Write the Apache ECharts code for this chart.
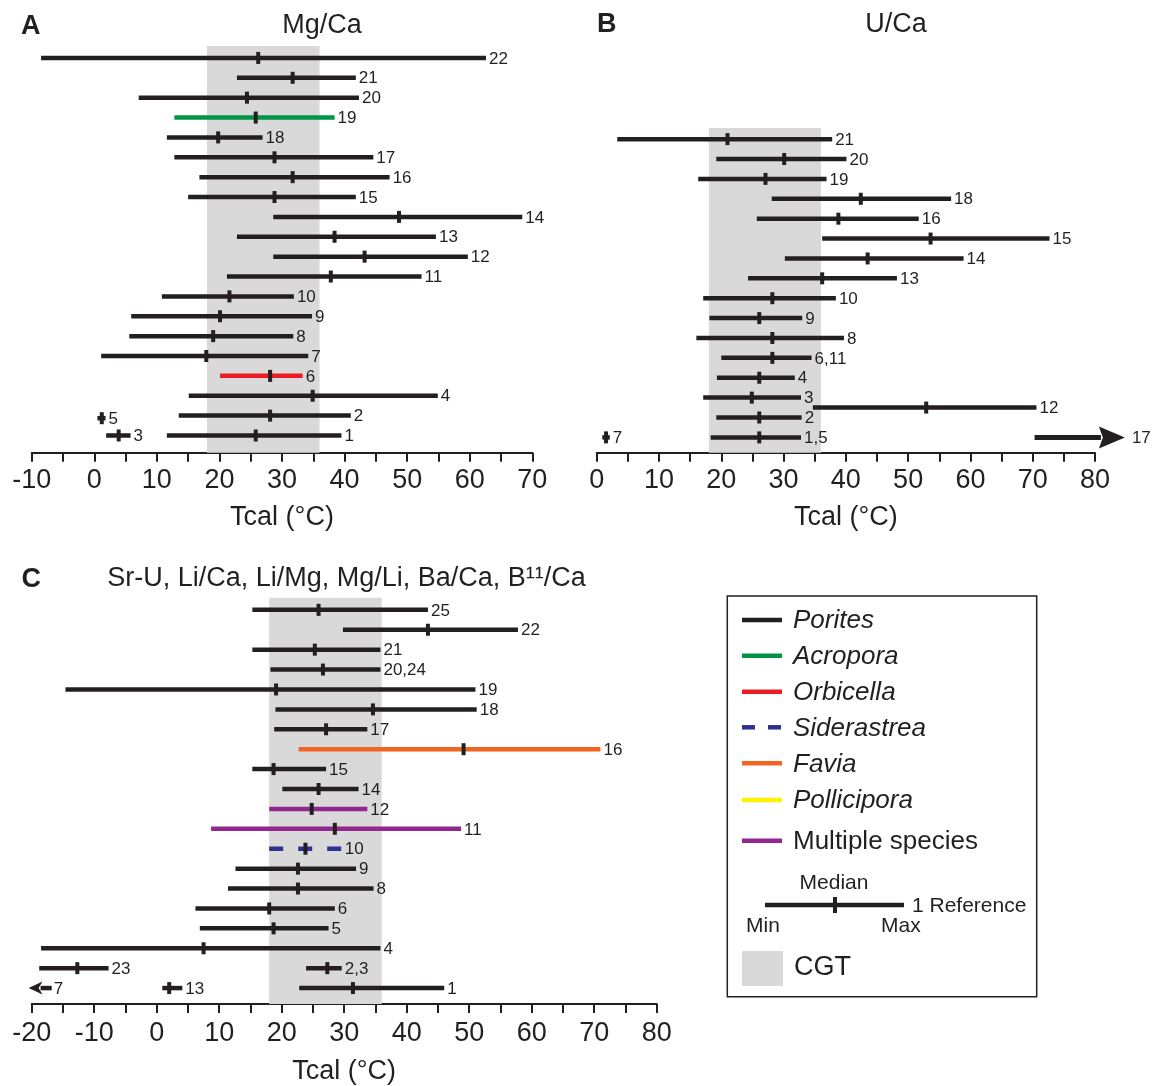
<!DOCTYPE html>
<html><head><meta charset="utf-8">
<script src="https://cdn.jsdelivr.net/npm/echarts@6/dist/echarts.min.js"></script>
<style>html,body{margin:0;padding:0;background:#fff}#c{width:1163px;height:1086px}</style>
</head><body><div id="c"></div>
<script>
const FONT = "'Liberation Sans', Arial, Helvetica, sans-serif";
const INK = '#231f20';

const speciesNames = ['Porites','Acropora','Orbicella','Siderastrea','Favia','Pollicipora','Multiple species'];
const speciesColors = ['#231f20','#009444','#ed1c24','#2e3192','#f26522','#fff200','#92278f'];
const cgtRange = [18, 36];

// Panel A: Mg/Ca
const aLabels  = ['22','21','20','19','18','17','16','15','14','13','12','11','10','9','8','7','6','4','2','5','1','3'];
const aRows    = [19,18,17,16,15,14,13,12,11,10,9,8,7,6,5,4,3,2,1,0.87,0,0];
const aMin     = [-8.5,22.8,7.1,12.8,11.6,12.8,16.8,15.0,28.6,22.8,28.6,21.2,10.8,5.9,5.6,1.1,20.1,15.1,13.5,0.5,11.6,1.9];
const aMedian  = [26.2,31.7,24.4,25.8,19.8,28.8,31.7,28.8,48.7,38.4,43.2,37.8,21.6,20.1,19.0,17.9,28.1,34.9,28.1,1.2,25.8,3.9];
const aMax     = [62.6,41.8,42.3,38.4,26.9,44.6,47.2,41.8,68.4,54.6,59.7,52.3,31.9,34.8,31.8,34.2,33.3,54.9,41.0,1.8,39.5,5.8];
const aSpecies = [0,0,0,1,0,0,0,0,0,0,0,0,0,0,0,0,2,0,0,0,0,0];

// Panel B: U/Ca
const bLabels  = ['21','20','19','18','16','15','14','13','10','9','8','6,11','4','3','12','2','1,5','7'];
const bRows    = [15,14,13,12,11,10,9,8,7,6,5,4,3,2,1.5,1,0,0];
const bMin     = [3.3,19.2,16.3,28.1,25.7,36.2,30.2,24.3,17.1,18.1,16.0,20.0,19.3,17.1,34.7,19.2,18.3,0.9];
const bMedian  = [21.0,30.1,27.1,42.4,38.8,53.6,43.5,36.2,28.2,26.1,28.2,28.2,26.1,24.9,52.9,26.1,26.1,1.5];
const bMax     = [37.8,40.1,36.9,56.9,51.7,72.7,58.9,48.2,38.4,33.0,39.7,34.5,31.8,32.8,70.6,32.9,32.8,2.1];
const bSpecies = bLabels.map(() => 0);
const bArrowLabels = ['17'];
const bArrowRows   = [0];
const bArrowFrom   = [70.3];
const bArrowTo     = [84.8];

// Panel C: Sr-U, Li/Ca, Li/Mg, Mg/Li, Ba/Ca, B11/Ca
const cLabels  = ['25','22','21','20,24','19','18','17','16','15','14','12','11','10','9','8','6','5','4','23','2,3','13','1'];
const cRows    = [19,18,17,16,15,14,13,12,11,10,9,8,7,6,5,4,3,2,1,1,0,0];
const cMin     = [15.3,29.8,15.3,18.2,-14.6,19.0,18.8,22.7,15.3,20.1,18.0,8.7,18.0,12.6,11.4,6.2,6.9,-18.5,-18.8,23.9,0.9,22.8];
const cMedian  = [25.9,43.4,25.3,26.6,19.1,34.6,27.1,49.1,18.7,25.9,24.8,28.5,23.8,22.6,22.6,18.0,18.7,7.5,-12.7,27.3,2.0,31.4];
const cMax     = [43.4,57.8,35.8,35.8,51.0,51.2,33.7,71.0,27.1,32.3,33.7,48.7,29.6,31.9,34.7,28.5,27.5,35.8,-7.7,29.6,4.1,46.0];
const cSpecies = [0,0,0,0,0,0,0,4,0,0,6,6,3,0,0,0,0,0,0,0,0,0];
const cArrowLabels = ['7'];
const cArrowRows   = [0];
const cArrowFrom   = [-16.8];
const cArrowTo     = [-20.5];

// axis extents (row units) for each panel
const yExt = [[-0.866, 19.6], [-0.77, 15.56], [-0.80, 19.61]];
const xExt = [[-10, 70], [0, 80], [-20, 80]];

function rangeSeries(gi, labels, rows, mins, meds, maxs, species) {
  return {
    type: 'custom', xAxisIndex: gi, yAxisIndex: gi, z: 3, silent: true, clip: false,
    data: labels.map((l, i) => [mins[i], maxs[i], meds[i], rows[i]]),
    encode: { x: [0, 1, 2], y: 3 },
    renderItem: function (params, api) {
      const i = params.dataIndex;
      const row = api.value(3);
      const a = api.coord([api.value(0), row]);
      const b = api.coord([api.value(1), row]);
      const m = api.coord([api.value(2), row]);
      const sp = species[i];
      const style = { stroke: speciesColors[sp], lineWidth: 4.5 };
      if (speciesNames[sp] === 'Siderastrea') style.lineDash = [14, 15];
      return { type: 'group', children: [
        { type: 'line', shape: { x1: a[0], y1: a[1], x2: b[0], y2: b[1] }, style: style },
        { type: 'rect', shape: { x: m[0] - 2, y: m[1] - 6, width: 4, height: 12 }, style: { fill: INK } },
        { type: 'text', x: b[0] + 3, y: b[1] + 1, style: { text: labels[i], fill: INK, font: '17px ' + FONT, align: 'left', verticalAlign: 'middle' } }
      ]};
    }
  };
}

function arrowSeries(gi, labels, rows, froms, tos, headLen, headHalf, shaftW, gap) {
  return {
    type: 'custom', xAxisIndex: gi, yAxisIndex: gi, z: 3, silent: true, clip: false,
    data: labels.map((l, i) => [froms[i], tos[i], rows[i]]),
    encode: { x: [0, 1], y: 2 },
    renderItem: function (params, api) {
      const i = params.dataIndex;
      const f = api.coord([api.value(0), api.value(2)]);
      const t = api.coord([api.value(1), api.value(2)]);
      const dir = t[0] > f[0] ? 1 : -1;
      const bx = t[0] - dir * headLen;
      const lx = dir > 0 ? t[0] + gap : f[0] + gap;
      return { type: 'group', children: [
        { type: 'line', shape: { x1: f[0], y1: f[1], x2: bx + dir * 2, y2: f[1] }, style: { stroke: INK, lineWidth: shaftW } },
        { type: 'polygon', shape: { points: [[t[0], t[1]], [bx, t[1] - headHalf], [bx + dir * 4, t[1]], [bx, t[1] + headHalf]] }, style: { fill: INK } },
        { type: 'text', x: lx, y: t[1] + 1, style: { text: labels[i], fill: INK, font: '17px ' + FONT, align: 'left', verticalAlign: 'middle' } }
      ]};
    }
  };
}

function cgtSeries(gi) {
  return {
    type: 'custom', xAxisIndex: gi, yAxisIndex: gi, z: 1, silent: true,
    data: [[cgtRange[0], cgtRange[1]]],
    encode: { x: [0, 1] },
    renderItem: function (params, api) {
      const p1 = api.coord([api.value(0), yExt[gi][1]]);
      const p2 = api.coord([api.value(1), yExt[gi][0]]);
      return { type: 'rect', shape: { x: p1[0], y: p1[1], width: p2[0] - p1[0], height: p2[1] - p1[1] }, style: { fill: '#d9d9d9' } };
    }
  };
}

function xAxisCfg(gi, margin, nameGap) {
  return {
    type: 'value', gridIndex: gi, min: xExt[gi][0], max: xExt[gi][1], interval: 5, position: 'bottom',
    axisLine: { show: true, onZero: false, lineStyle: { color: INK, width: 2 } },
    axisTick: { show: true, inside: false, length: 9, lineStyle: { color: INK, width: 2 } },
    axisLabel: { fontSize: 27, color: INK, fontFamily: FONT, margin: margin, formatter: v => (v % 10 === 0 ? String(v) : '') },
    splitLine: { show: false },
    name: 'Tcal (°C)', nameLocation: 'middle', nameGap: nameGap,
    nameTextStyle: { fontSize: 27, color: INK, fontFamily: FONT }
  };
}
function yAxisCfg(gi) {
  return { type: 'value', gridIndex: gi, min: yExt[gi][0], max: yExt[gi][1], show: false };
}

const legendY = [620, 655.7, 691.7, 727.3, 763.3, 800, 840.7];
const graphics = [];
function txt(x, y, text, font, align) {
  graphics.push({ type: 'text', x: x, y: y, silent: true, style: { text: text, font: font, fill: INK, align: align || 'left', verticalAlign: 'middle' } });
}
txt(21, 27, 'A', 'bold 27px ' + FONT);
txt(322, 26, 'Mg/Ca', '27px ' + FONT, 'center');
txt(597, 25, 'B', 'bold 27px ' + FONT);
txt(896, 25, 'U/Ca', '27px ' + FONT, 'center');
txt(21.4, 580, 'C', 'bold 27px ' + FONT);
txt(346.5, 579, 'Sr-U, Li/Ca, Li/Mg, Mg/Li, Ba/Ca, B\u00b9\u00b9/Ca', '27px ' + FONT, 'center');

graphics.push({ type: 'rect', silent: true, shape: { x: 727.3, y: 596, width: 309.4, height: 400.7 }, style: { fill: 'none', stroke: INK, lineWidth: 1.5 } });
speciesNames.forEach((n, i) => {
  const st = { stroke: speciesColors[i], lineWidth: 4.5 };
  if (n === 'Siderastrea') st.lineDash = [13, 13];
  graphics.push({ type: 'line', silent: true, shape: { x1: 742, y1: legendY[i], x2: 782, y2: legendY[i] }, style: st });
  txt(793, legendY[i] + 1, n, (n === 'Multiple species' ? '' : 'italic ') + '26px ' + FONT);
});
graphics.push({ type: 'line', silent: true, shape: { x1: 765, y1: 905, x2: 904, y2: 905 }, style: { stroke: INK, lineWidth: 4.5 } });
graphics.push({ type: 'rect', silent: true, shape: { x: 833, y: 897, width: 4, height: 16 }, style: { fill: INK } });
txt(834, 883, 'Median', '21px ' + FONT, 'center');
txt(912, 906, '1 Reference', '21px ' + FONT);
txt(746, 926, 'Min', '21px ' + FONT);
txt(881, 926, 'Max', '21px ' + FONT);
graphics.push({ type: 'rect', silent: true, shape: { x: 742, y: 951, width: 41, height: 35 }, style: { fill: '#d9d9d9' } });
txt(794, 968, 'CGT', '27px ' + FONT);

const chart = echarts.init(document.getElementById('c'), null, { renderer: 'canvas' });
chart.setOption({
  backgroundColor: '#fff',
  animation: false,
  grid: [
    { left: 31.7, top: 46, width: 500.6, height: 406.7, outerBoundsMode: 'none' },
    { left: 596.7, top: 128, width: 498.3, height: 324.7, outerBoundsMode: 'none' },
    { left: 31.7, top: 597.7, width: 625, height: 406.3, outerBoundsMode: 'none' }
  ],
  xAxis: [xAxisCfg(0, 14, 51), xAxisCfg(1, 14, 51), xAxisCfg(2, 16, 54)],
  yAxis: [yAxisCfg(0), yAxisCfg(1), yAxisCfg(2)],
  series: [
    cgtSeries(0), cgtSeries(1), cgtSeries(2),
    rangeSeries(0, aLabels, aRows, aMin, aMedian, aMax, aSpecies),
    rangeSeries(1, bLabels, bRows, bMin, bMedian, bMax, bSpecies),
    arrowSeries(1, bArrowLabels, bArrowRows, bArrowFrom, bArrowTo, 26, 11, 5, 7),
    rangeSeries(2, cLabels, cRows, cMin, cMedian, cMax, cSpecies),
    arrowSeries(2, cArrowLabels, cArrowRows, cArrowFrom, cArrowTo, 14, 6.5, 4.5, 2)
  ],
  graphic: graphics
});
</script></body></html>
